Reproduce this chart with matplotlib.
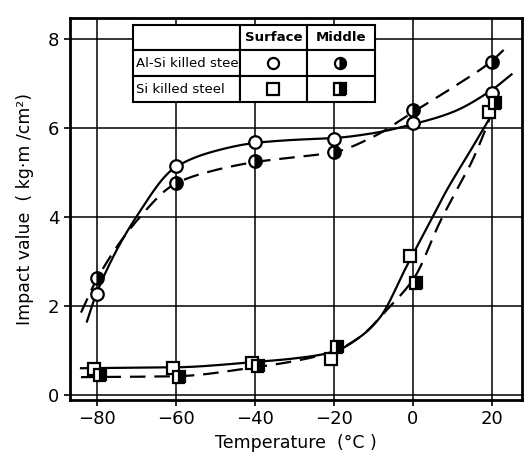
import numpy as np
import matplotlib
matplotlib.use("Agg")
import matplotlib.pyplot as plt

# measured points
temps = [-80, -60, -40, -20, 0, 20]
alsi_surface = [2.27, 5.15, 5.69, 5.75, 6.11, 6.79]
alsi_middle = [2.63, 4.76, 5.26, 5.46, 6.40, 7.48]
si_surface = [0.58, 0.61, 0.72, 0.81, 3.11, 6.36]
si_middle = [0.45, 0.40, 0.65, 1.08, 2.52, 6.56]

# hand-drawn fit curves
alsi_surf_cx = [-82.5, -80, -70, -60, -50, -40, -30, -20, -10, 0, 10, 20, 25]
alsi_surf_cy = [1.65, 2.3, 4.0, 5.12, 5.48, 5.66, 5.73, 5.77, 5.88, 6.08, 6.35, 6.85, 7.2]
alsi_mid_cx = [-84, -80, -70, -60, -50, -40, -30, -20, -10, 0, 10, 20, 23]
alsi_mid_cy = [1.85, 2.6, 3.9, 4.75, 5.05, 5.23, 5.34, 5.45, 5.8, 6.35, 6.9, 7.5, 7.75]
si_surf_cx = [-84, -60, -40, -30, -20, -13.4, -8.4, -1.5, 4.3, 8.6, 14, 18.7, 20]
si_surf_cy = [0.6, 0.62, 0.74, 0.82, 0.97, 1.3, 1.73, 2.9, 3.87, 4.6, 5.4, 6.1, 6.3]
si_mid_cx = [-84, -60, -40, -30, -20, -13.4, -6.6, 0.5, 6.8, 11.1, 15, 19, 20]
si_mid_cy = [0.4, 0.42, 0.62, 0.76, 0.98, 1.3, 1.91, 2.65, 3.87, 4.6, 5.25, 6.1, 6.35]


def smooth(xs, ys, n=400):
    # monotone cubic (pchip) through the traced points
    x = np.asarray(xs, float)
    y = np.asarray(ys, float)
    h = np.diff(x)
    d = np.diff(y) / h
    m = np.zeros_like(x)
    for k in range(1, len(x) - 1):
        if d[k - 1] * d[k] > 0:
            w1 = 2 * h[k] + h[k - 1]
            w2 = h[k] + 2 * h[k - 1]
            m[k] = (w1 + w2) / (w1 / d[k - 1] + w2 / d[k])
    m[0] = d[0]
    m[-1] = d[-1]
    xx = np.linspace(x[0], x[-1], n)
    idx = np.clip(np.searchsorted(x, xx) - 1, 0, len(x) - 2)
    t = (xx - x[idx]) / h[idx]
    h00 = 2 * t ** 3 - 3 * t ** 2 + 1
    h10 = t ** 3 - 2 * t ** 2 + t
    h01 = -2 * t ** 3 + 3 * t ** 2
    h11 = t ** 3 - t ** 2
    yy = h00 * y[idx] + h10 * h[idx] * m[idx] + h01 * y[idx + 1] + h11 * h[idx] * m[idx + 1]
    return xx, yy


fig = plt.figure(figsize=(5.26, 4.58), dpi=100)
ax = fig.add_axes([0.133, 0.127, 0.859, 0.834])

dash = (0, (7, 4))
for cx, cy, ls in [(alsi_surf_cx, alsi_surf_cy, "-"), (alsi_mid_cx, alsi_mid_cy, dash),
                   (si_surf_cx, si_surf_cy, "-"), (si_mid_cx, si_mid_cy, dash)]:
    sx, sy = smooth(cx, cy)
    ax.plot(sx, sy, color="black", lw=1.6, linestyle=ls, zorder=3)

t = np.array(temps)
mk = dict(color="black", markersize=9, markeredgewidth=1.6, linestyle="none", zorder=4)
ax.plot(t, alsi_surface, marker="o", markerfacecolor="white", **mk)
ax.plot(t, alsi_middle, marker="o", fillstyle="right", markerfacecoloralt="white", **mk)
ax.plot(t - 0.8, si_surface, marker="s", markerfacecolor="white", **mk)
ax.plot(t + 0.8, si_middle, marker="s", fillstyle="right", markerfacecoloralt="white", **mk)

ax.set_xlim(-86.8, 27.6)
ax.set_ylim(-0.11, 8.47)
ax.set_xticks(temps)
ax.set_xticklabels(["\u221280", "\u221260", "\u221240", "\u221220", "0", "20"])
ax.set_yticks([0, 2, 4, 6, 8])
ax.grid(True, color="black", lw=1.1)
ax.tick_params(labelsize=13, length=4, width=1.2, direction="out")
for s in ax.spines.values():
    s.set_linewidth(2)

ax.set_xlabel("Temperature  (\u00b0C )", fontsize=12.5)
ax.set_ylabel("Impact value  ( kg\u00b7m /cm\u00b2)", fontsize=12.5, labelpad=10)

# legend as a small table
tb = ax.table(cellText=[["Al-Si killed steel", "", ""], ["Si killed steel", "", ""]],
              colLabels=["", "Surface", "Middle"],
              colWidths=[0.237, 0.148, 0.151],
              bbox=[0.139, 0.780, 0.536, 0.202], cellLoc="left", zorder=5)
tb.auto_set_font_size(False)
tb.set_fontsize(9.5)
for (r, c), cell in tb.get_celld().items():
    cell.set_linewidth(1.5)
    cell.set_facecolor("white")
    cell.PAD = 0.03
    if r == 0:
        cell.get_text().set_ha("center")
        cell.get_text().set_fontweight("bold")

lx = [0.45, 0.598]
ly = [0.881, 0.813]
kw = dict(transform=ax.transAxes, color="black", markersize=8, markeredgewidth=1.6,
          linestyle="none", zorder=6, clip_on=False)
ax.plot(lx[0], ly[0], marker="o", markerfacecolor="white", **kw)
ax.plot(lx[1], ly[0], marker="o", fillstyle="right", markerfacecoloralt="white", **kw)
ax.plot(lx[0], ly[1], marker="s", markerfacecolor="white", **kw)
ax.plot(lx[1], ly[1], marker="s", fillstyle="right", markerfacecoloralt="white", **kw)

fig.savefig("out.png", dpi=100)
